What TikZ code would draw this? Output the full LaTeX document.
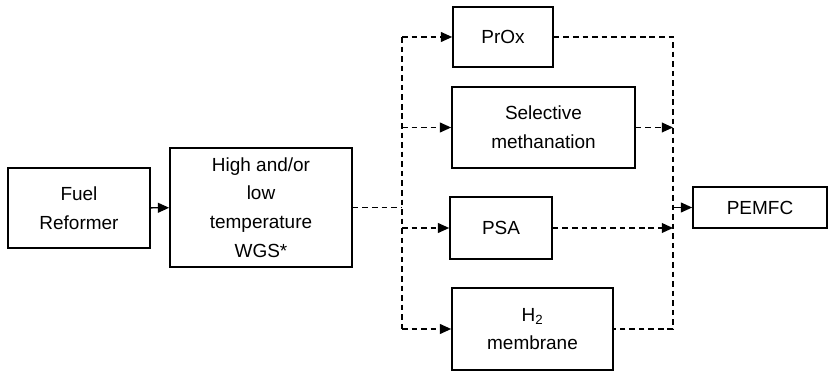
\documentclass[tikz,border=0pt]{standalone}
\usepackage{fontspec}
\setmainfont{Liberation Sans}
\usetikzlibrary{arrows.meta, calc}

\tikzset{
	unit/.style = {draw, line width = 1.2pt, align = center, inner sep = 2pt,
		font = \fontsize{13.5}{20.5}\selectfont},
	flow/.style = {line width = 1pt, -{Triangle[length = 8pt, width = 7pt]}},
	dflow/.style = {flow, dash pattern = on 4pt off 2.8pt},
	dline/.style = {line width = 1pt, dash pattern = on 4pt off 2.8pt}
}

\begin{document}
\begin{tikzpicture}
\useasboundingbox (0, 0) rectangle (20.7, -9.275);

\node[unit, minimum width = 3.55cm, minimum height = 2cm] (fuel) at (1.975, -5.2) {Fuel\\Reformer};
\node[unit, minimum width = 4.55cm, minimum height = 2.975cm] (wgs) at (6.525, -5.1875)
	{High and/or\\low\\temperature\\WGS*};
\node[unit, minimum width = 2.5cm, minimum height = 1.5cm] (prox) at (12.575, -0.925) {PrOx};
\node[unit, minimum width = 4.575cm, minimum height = 2.025cm] (meth) at (13.5875, -3.1875)
	{Selective\\methanation};
\node[unit, minimum width = 2.55cm, minimum height = 1.55cm] (psa) at (12.525, -5.7) {PSA};
\node[unit, minimum width = 4.025cm, minimum height = 2.05cm] (memb) at (13.3125, -8.225)
	{H\textsubscript{2}\\membrane};
\node[unit, minimum width = 3.35cm, minimum height = 1.025cm] (pemfc) at (19.0, -5.1875) {PEMFC};

% split and join lines
\coordinate (split) at (10.05, 0);
\coordinate (join) at (16.825, 0);

\draw[flow] (fuel) -- (wgs);
\draw[dline] (wgs.east) -- (split |- wgs.east);
\draw[dline] (split |- prox) -- (split |- memb);
\foreach \b in {prox, meth, psa, memb}
	\draw[dflow] (split |- \b) -- (\b.west);

\draw[dline] (prox.east) -- (join |- prox) -- (join |- memb) -- (memb.east);
\draw[dflow] (meth.east) -- (join |- meth);
\draw[dflow] (psa.east) -- (join |- psa);
\draw[flow] (join |- pemfc) -- (pemfc.west);
\end{tikzpicture}
\end{document}
